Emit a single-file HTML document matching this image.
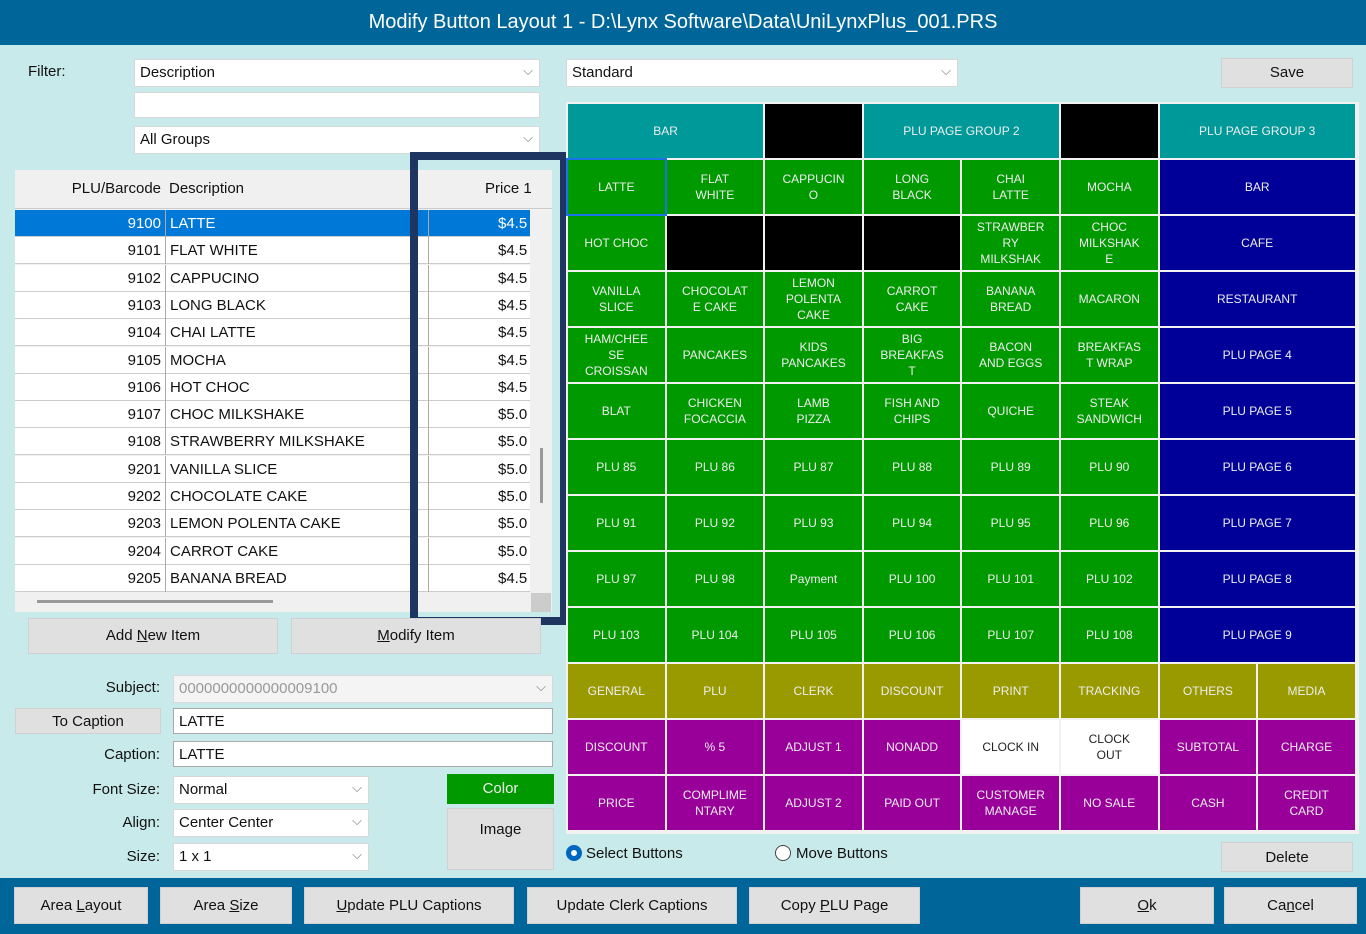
<!DOCTYPE html>
<html><head><meta charset="utf-8"><style>
*{box-sizing:border-box;margin:0;padding:0}
body{width:1366px;height:934px;overflow:hidden;background:#c8eaea;font-family:"Liberation Sans",sans-serif;position:relative;font-size:15px;color:#111}
.abs{position:absolute}
.title{left:0;top:0;width:1366px;height:45px;background:#006699;color:#fff;font-size:20px;text-align:center;line-height:44px}
.lbl{position:absolute;text-align:right}
.box{position:absolute;background:#fff;border:1px solid #d8d8d8;padding-left:5px;line-height:26px}
.dd::after{content:"⌵";position:absolute;right:6px;top:-2px;color:#777;font-size:13px}
.btn{position:absolute;background:#e0e0e0;text-align:center;border:1px solid #d0d0d0}
.cell{position:absolute;color:#eee;font-size:12px;display:flex;align-items:center;justify-content:center;text-align:center;line-height:16px}
table{border-collapse:collapse}
.row{position:absolute;left:15px;width:515px;height:27px;background:#fff;border-bottom:1px solid #ccc;font-size:15px;line-height:27px}
.row span{position:absolute}
</style></head><body>
<div class="abs title">Modify Button Layout 1 - D:\Lynx Software\Data\UniLynxPlus_001.PRS</div>
<div class="lbl" style="left:28px;top:63px">Filter:</div>
<div class="box dd" style="left:134px;top:59px;width:406px;height:28px">Description</div>
<div class="box" style="left:134px;top:92px;width:406px;height:26px"></div>
<div class="box dd" style="left:134px;top:126px;width:406px;height:28px">All Groups</div>
<div class="box dd" style="left:566px;top:59px;width:392px;height:28px">Standard</div>
<div class="btn" style="left:1221px;top:58px;width:132px;height:30px;line-height:28px">Save</div>

<div class="abs" style="left:15px;top:170px;width:537px;height:442px;background:#f0f0f0">
 <div class="abs" style="left:0;top:0;width:537px;height:39px;background:#f0f0f0;border-bottom:1px solid #ccc;line-height:38px">
  <span class="abs" style="left:0;width:146px;text-align:right">PLU/Barcode</span>
  <span class="abs" style="left:154px">Description</span>
  <span class="abs" style="left:470px">Price 1</span>
 </div>
 <div class="abs" style="left:515px;top:40px;width:22px;height:383px;background:#f0f0f0"></div>
 <div class="abs" style="left:525px;top:278px;width:3px;height:55px;background:#999"></div>
 <div class="abs" style="left:22px;top:430px;width:236px;height:3px;background:#999"></div>
 <div class="abs" style="left:516px;top:423px;width:20px;height:19px;background:#ccc"></div>
</div>
<div id="rows"></div>
<div class="abs" style="left:410px;top:152px;width:158px;height:473px;border:8px solid #1e3461"></div>

<div class="btn" style="left:28px;top:618px;width:250px;height:36px;line-height:34px">Add <u>N</u>ew Item</div>
<div class="btn" style="left:291px;top:618px;width:250px;height:36px;line-height:34px"><u>M</u>odify Item</div>
<div class="lbl" style="left:60px;width:100px;top:679px">Subject:</div>
<div class="box dd" style="left:173px;top:675px;width:380px;height:28px;background:#f4f4f4;color:#999">0000000000000009100</div>
<div class="btn" style="left:15px;top:708px;width:146px;height:26px;line-height:25px">To Caption</div>
<div class="box" style="left:173px;top:708px;width:380px;height:26px;border-color:#aaa">LATTE</div>
<div class="lbl" style="left:60px;width:100px;top:746px">Caption:</div>
<div class="box" style="left:173px;top:741px;width:380px;height:26px;border-color:#aaa">LATTE</div>
<div class="lbl" style="left:60px;width:100px;top:781px">Font Size:</div>
<div class="box dd" style="left:173px;top:776px;width:196px;height:28px">Normal</div>
<div class="lbl" style="left:60px;width:100px;top:814px">Align:</div>
<div class="box dd" style="left:173px;top:809px;width:196px;height:28px">Center Center</div>
<div class="lbl" style="left:60px;width:100px;top:848px">Size:</div>
<div class="box dd" style="left:173px;top:843px;width:196px;height:28px">1 x 1</div>
<div class="btn" style="left:447px;top:774px;width:107px;height:30px;line-height:29px;background:#009900;color:#eee;border:none">Color</div>
<div class="btn" style="left:447px;top:808px;width:107px;height:62px;padding-top:12px">Image</div>

<div class="abs" style="left:566px;top:102px;width:793px;height:732px;background:#f2f2f2"></div>
<div id="grid"></div>

<div class="abs" style="left:566px;top:845px;width:16px;height:16px;border-radius:50%;border:5px solid #0067c0;background:#fff"></div>
<div class="abs" style="left:586px;top:845px">Select Buttons</div>
<div class="abs" style="left:775px;top:845px;width:16px;height:16px;border-radius:50%;border:1px solid #444;background:#fff"></div>
<div class="abs" style="left:796px;top:845px">Move Buttons</div>
<div class="btn" style="left:1221px;top:842px;width:132px;height:30px;line-height:29px">Delete</div>

<div class="abs" style="left:0;top:878px;width:1366px;height:56px;background:#006699"></div>
<div class="btn" style="left:14px;top:887px;width:134px;height:37px;line-height:36px">Area <u>L</u>ayout</div>
<div class="btn" style="left:160px;top:887px;width:132px;height:37px;line-height:36px">Area <u>S</u>ize</div>
<div class="btn" style="left:304px;top:887px;width:210px;height:37px;line-height:36px"><u>U</u>pdate PLU Captions</div>
<div class="btn" style="left:527px;top:887px;width:210px;height:37px;line-height:36px">Update Clerk Captions</div>
<div class="btn" style="left:749px;top:887px;width:171px;height:37px;line-height:36px">Copy <u>P</u>LU Page</div>
<div class="btn" style="left:1080px;top:887px;width:134px;height:37px;line-height:36px"><u>O</u>k</div>
<div class="btn" style="left:1224px;top:887px;width:133px;height:37px;line-height:36px">Ca<u>n</u>cel</div>

<script>
const plus=["9100","9101","9102","9103","9104","9105","9106","9107","9108","9201","9202","9203","9204","9205"];
const descs=["LATTE","FLAT WHITE","CAPPUCINO","LONG BLACK","CHAI LATTE","MOCHA","HOT CHOC","CHOC MILKSHAKE","STRAWBERRY MILKSHAKE","VANILLA SLICE","CHOCOLATE CAKE","LEMON POLENTA CAKE","CARROT CAKE","BANANA BREAD"];
const prices=["$4.50","$4.50","$4.50","$4.50","$4.50","$4.50","$4.50","$5.00","$5.00","$5.00","$5.00","$5.00","$5.00","$4.50"];
const R=document.getElementById('rows');
plus.forEach((p,i)=>{
 const d=document.createElement('div');d.className='row';
 
 
 d.style.top=(210+i*27.3)+'px';
 if(i==0){d.style.background='#0078d7';d.style.color='#fff';}
 d.innerHTML='<span style="left:0;width:146px;text-align:right">'+p+'</span><span style="left:150px;top:0;height:27px;border-left:1px solid #aaa"></span><span style="left:155px">'+descs[i]+'</span><span style="left:413px;top:0;height:27px;border-left:1px solid #aaa"></span><span style="left:450px;width:65px;overflow:hidden;text-align:left;padding-left:33px">'+prices[i].slice(0,4)+'</span>';
 R.appendChild(d);
});
const G=document.getElementById('grid');
const X0=568,Y0=104,CW=98.6,RH=56;
function cell(c,r,w,h,bg,txt,fg){
 const d=document.createElement('div');d.className='cell';
 
 
 d.style.left=(X0+c*CW)+'px';d.style.top=(Y0+r*RH)+'px';
 d.style.width=(w*CW-2)+'px';d.style.height=(h*RH-2)+'px';
 d.style.background=bg;if(fg)d.style.color=fg;
 d.innerHTML=txt;G.appendChild(d);return d;
}
const T='#009999',GR='#009900',B='#000099',O='#999900',P='#990099',K='#000';
cell(0,0,2,1,T,'BAR');cell(2,0,1,1,K,'');cell(3,0,2,1,T,'PLU PAGE GROUP 2');cell(5,0,1,1,K,'');cell(6,0,2,1,T,'PLU PAGE GROUP 3');
const items=[
["LATTE","FLAT<br>WHITE","CAPPUCIN<br>O","LONG<br>BLACK","CHAI<br>LATTE","MOCHA"],
["HOT CHOC","#","#","#","STRAWBER<br>RY<br>MILKSHAK","CHOC<br>MILKSHAK<br>E"],
["VANILLA<br>SLICE","CHOCOLAT<br>E CAKE","LEMON<br>POLENTA<br>CAKE","CARROT<br>CAKE","BANANA<br>BREAD","MACARON"],
["HAM/CHEE<br>SE<br>CROISSAN","PANCAKES","KIDS<br>PANCAKES","BIG<br>BREAKFAS<br>T","BACON<br>AND EGGS","BREAKFAS<br>T WRAP"],
["BLAT","CHICKEN<br>FOCACCIA","LAMB<br>PIZZA","FISH AND<br>CHIPS","QUICHE","STEAK<br>SANDWICH"],
["PLU 85","PLU 86","PLU 87","PLU 88","PLU 89","PLU 90"],
["PLU 91","PLU 92","PLU 93","PLU 94","PLU 95","PLU 96"],
["PLU 97","PLU 98","Payment","PLU 100","PLU 101","PLU 102"],
["PLU 103","PLU 104","PLU 105","PLU 106","PLU 107","PLU 108"]];
const pages=["BAR","CAFE","RESTAURANT","PLU PAGE 4","PLU PAGE 5","PLU PAGE 6","PLU PAGE 7","PLU PAGE 8","PLU PAGE 9"];
items.forEach((row,r)=>{row.forEach((t,c)=>{const d=t=='#'?cell(c,r+1,1,1,K,''):cell(c,r+1,1,1,GR,t);if(r==0&&c==0)d.style.outline='2px solid #1a73e8';});cell(6,r+1,2,1,B,pages[r]);});
["GENERAL","PLU","CLERK","DISCOUNT","PRINT","TRACKING","OTHERS","MEDIA"].forEach((t,c)=>cell(c,10,1,1,O,t));
["DISCOUNT","% 5","ADJUST 1","NONADD","CLOCK IN","CLOCK<br>OUT","SUBTOTAL","CHARGE"].forEach((t,c)=>cell(c,11,1,1,(c==4||c==5)?'#fff':P,t,(c==4||c==5)?'#222':null));
["PRICE","COMPLIME<br>NTARY","ADJUST 2","PAID OUT","CUSTOMER<br>MANAGE","NO SALE","CASH","CREDIT<br>CARD"].forEach((t,c)=>cell(c,12,1,1,P,t));
</script>
</body></html>
